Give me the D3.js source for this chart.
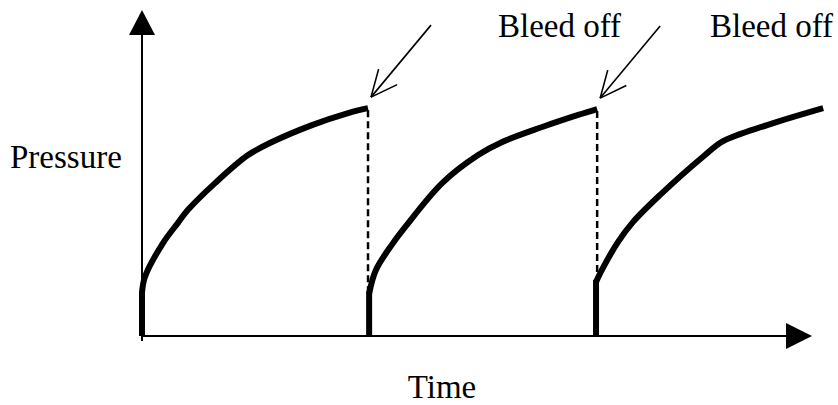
<!DOCTYPE html>
<html>
<head>
<meta charset="utf-8">
<script src="https://cdn.jsdelivr.net/npm/d3@7"></script>
<style>
  body { margin: 0; background: #fff; }
</style>
</head>
<body>
<script>
// pressure build-up cycles (time in arbitrary units)
var cycleStart = [0, 10.17, 20.33];
var cycle1Elapsed  = [0, 0,    0.13, 0.94, 1.61, 2.06, 3.27, 4.75, 5.82, 7.61, 9.23, 10.12];
var cycle1Pressure = [0, 1.32, 1.81, 2.85, 3.47, 3.87, 4.69, 5.55, 5.95, 6.47, 6.84, 6.99];
var cycle2Elapsed  = [0, 0,    0.30, 1.07, 1.61, 3.27, 4.88, 5.96, 7.75, 9.36, 10.21];
var cycle2Pressure = [0, 1.30, 2.02, 2.85, 3.34, 4.69, 5.55, 5.95, 6.41, 6.78, 6.96];
var cycle3Elapsed  = [0, 0,    0.31, 0.98, 1.66, 2.87, 4.79, 5.69, 7.66, 10.17];
var cycle3Pressure = [0, 1.66, 2.09, 2.88, 3.50, 4.33, 5.50, 5.98, 6.47, 6.99];
var bleedLabels = ["Bleed off", "Bleed off"];
var axisLabels = ["Time", "Pressure"];

var width = 838, height = 405;
var serif = "'Liberation Serif', 'Times New Roman', Times, 'DejaVu Serif', serif";

var svg = d3.select("body").append("svg")
  .attr("width", width)
  .attr("height", height);

var x = d3.scaleLinear().domain([0, 30]).range([142, 812]);
var y = d3.scaleLinear().domain([0, 10]).range([336, 10]);

var cycles = [
  [cycle1Elapsed, cycle1Pressure],
  [cycle2Elapsed, cycle2Pressure],
  [cycle3Elapsed, cycle3Pressure]
].map(function(c, i) {
  return c[0].map(function(t, j) {
    return { t: cycleStart[i] + t, p: c[1][j] };
  });
});

// axes with filled arrow heads
svg.append("line")
  .attr("x1", x(0)).attr("x2", x(0))
  .attr("y1", y(0) + 5).attr("y2", y(10) + 20)
  .attr("stroke", "#000").attr("stroke-width", 2);
svg.append("line")
  .attr("x1", x(0) - 1).attr("x2", x(30) - 20)
  .attr("y1", y(0)).attr("y2", y(0))
  .attr("stroke", "#000").attr("stroke-width", 2);

svg.append("path")
  .attr("d", "M" + x(0) + "," + y(10) + "l-13,25h26z")
  .attr("fill", "#000");
svg.append("path")
  .attr("d", "M" + x(30) + "," + y(0) + "l-26,-13v26z")
  .attr("fill", "#000");

// dashed lines where pressure is bled off
cycles.slice(0, 2).forEach(function(c, i) {
  var end = c[c.length - 1];
  var next = cycles[i + 1][1];
  svg.append("line")
    .attr("x1", x(end.t)).attr("x2", x(end.t))
    .attr("y1", y(end.p) + 2).attr("y2", y(next.p))
    .attr("stroke", "#000")
    .attr("stroke-width", 2.5)
    .attr("stroke-dasharray", "7,4");
});

// pressure curves
var line = d3.line()
  .x(function(d) { return x(d.t); })
  .y(function(d) { return y(d.p); })
  .curve(d3.curveCatmullRom.alpha(0.5));

cycles.forEach(function(c) {
  // vertical jump at the start, then the build-up curve
  svg.append("line")
    .attr("x1", x(c[0].t)).attr("x2", x(c[0].t))
    .attr("y1", y(c[0].p)).attr("y2", y(c[1].p) - 2)
    .attr("stroke", "#000").attr("stroke-width", 6);
  svg.append("path")
    .datum(c.slice(1))
    .attr("d", line)
    .attr("fill", "none")
    .attr("stroke", "#000")
    .attr("stroke-width", 6);
});

// bleed off arrows + labels
var labelX = [498, 710];
cycles.slice(0, 2).forEach(function(c, i) {
  var end = c[c.length - 1];
  var tipX = x(end.t) + 3, tipY = y(end.p) - 11;
  var tailX = tipX + 60, tailY = tipY - 72;
  var ang = Math.atan2(tailY - tipY, tailX - tipX);
  var g = svg.append("g")
    .attr("stroke", "#000").attr("stroke-width", 1.6).attr("fill", "none");
  g.append("line")
    .attr("x1", tipX).attr("y1", tipY)
    .attr("x2", tailX).attr("y2", tailY);
  [-0.43, 0.43].forEach(function(da) {
    g.append("line")
      .attr("x1", tipX).attr("y1", tipY)
      .attr("x2", tipX + 29 * Math.cos(ang + da))
      .attr("y2", tipY + 29 * Math.sin(ang + da));
  });
  svg.append("text")
    .attr("x", labelX[i])
    .attr("y", 37)
    .attr("font-family", serif)
    .attr("font-size", 33)
    .text(bleedLabels[i]);
});

svg.append("text")
  .attr("x", 442)
  .attr("y", 398)
  .attr("text-anchor", "middle")
  .attr("font-family", serif)
  .attr("font-size", 33)
  .text(axisLabels[0]);

svg.append("text")
  .attr("x", 10)
  .attr("y", 168)
  .attr("font-family", serif)
  .attr("font-size", 33)
  .text(axisLabels[1]);
</script>
</body>
</html>
